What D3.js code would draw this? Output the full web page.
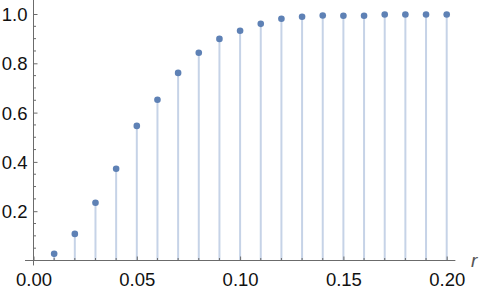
<!DOCTYPE html>
<html><head><meta charset="utf-8">
<script src="https://cdn.jsdelivr.net/npm/d3@7"></script>
<style>html,body{margin:0;padding:0;background:#fff;}svg{display:block;}</style>
</head><body>
<script>
const rValues = [0.01,0.02,0.03,0.04,0.05,0.06,0.07,0.08,0.09,0.10,0.11,0.12,0.13,0.14,0.15,0.16,0.17,0.18,0.19,0.20];
const probValues = [0.027,0.108,0.234,0.372,0.546,0.652,0.761,0.843,0.899,0.932,0.960,0.981,0.989,0.994,0.993,0.993,0.998,0.998,0.998,0.998];
const xTickValues = [0,0.05,0.10,0.15,0.20];
const xTickLabels = ["0.00","0.05","0.10","0.15","0.20"];
const yTickValues = [0.2,0.4,0.6,0.8,1.0];
const yTickLabels = ["0.2","0.4","0.6","0.8","1.0"];
const xLabel = "r";

const W = 482, H = 293;
const svg = d3.select("body").append("svg").attr("width", W).attr("height", H);
const x = d3.scaleLinear().domain([0, 0.2]).range([33.5, 446.7]);
const y = d3.scaleLinear().domain([0, 1]).range([260.5, 14]);
const axisColor = "#6b6b6b";
const font = "'Liberation Sans', Arial, sans-serif";

// stems
svg.append("g").selectAll("line").data(rValues).join("line")
  .attr("x1", d => x(d)).attr("x2", d => x(d))
  .attr("y1", y(0)).attr("y2", (d, i) => y(probValues[i]))
  .attr("stroke", "#c6d3e7").attr("stroke-width", 2);

// x axis
const xMinor = d3.range(0, 0.2001, 0.01);
const xAxis = d3.axisBottom(x).tickValues(xTickValues)
  .tickFormat((d, i) => xTickLabels[i]).tickSizeInner(-4).tickSizeOuter(0).tickPadding(10);
const gx = svg.append("g").attr("transform", `translate(0,${y(0)})`).call(xAxis);
gx.select(".domain").remove();
gx.append("line").attr("x1", x(-0.0041)).attr("x2", x(0.2042)).attr("stroke", axisColor);
gx.selectAll(".tick line").attr("stroke", axisColor);
gx.selectAll(".tick text").attr("fill", "#111").attr("font-family", font).attr("font-size", 18.5)
  .attr("dy", "0.71em").attr("y", 12);
gx.append("g").selectAll("line").data(xMinor.filter(v => !xTickValues.some(t => Math.abs(t - v) < 1e-9))).join("line")
  .attr("x1", d => x(d)).attr("x2", d => x(d)).attr("y1", 0).attr("y2", -2.5).attr("stroke", axisColor);
// origin tick on x going down
gx.append("line").attr("x1", x(0)).attr("x2", x(0)).attr("y1", 0).attr("y2", 4.5).attr("stroke", axisColor);

// y axis
const yMinor = d3.range(0.05, 1.0001, 0.05);
const yAxis = d3.axisLeft(y).tickValues(yTickValues)
  .tickFormat((d, i) => yTickLabels[i]).tickSizeInner(-4).tickSizeOuter(0).tickPadding(10);
const gy = svg.append("g").attr("transform", `translate(${x(0)},0)`).call(yAxis);
gy.select(".domain").remove();
gy.append("line").attr("y1", y(-0.02)).attr("y2", 0).attr("stroke", axisColor);
gy.selectAll(".tick line").attr("stroke", axisColor);
gy.selectAll(".tick text").attr("fill", "#111").attr("font-family", font).attr("font-size", 18.5)
  .attr("x", -6).attr("dy", "0.36em");
gy.append("g").selectAll("line").data(yMinor.filter(v => !yTickValues.some(t => Math.abs(t - v) < 1e-9))).join("line")
  .attr("y1", d => y(d)).attr("y2", d => y(d)).attr("x1", 0).attr("x2", 2.5).attr("stroke", axisColor);

// axis label
svg.append("text").attr("x", 471).attr("y", 267).text(xLabel)
  .attr("font-family", font).attr("font-style", "italic").attr("font-size", 19).attr("fill", "#555");

// points
svg.append("g").selectAll("circle").data(rValues).join("circle")
  .attr("cx", d => x(d)).attr("cy", (d, i) => y(probValues[i])).attr("r", 3.3)
  .attr("fill", "#5e81b5");
</script>
</body></html>
